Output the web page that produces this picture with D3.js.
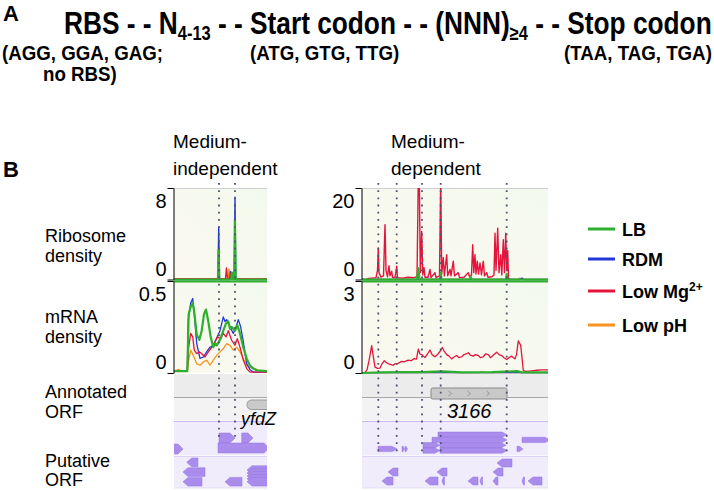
<!DOCTYPE html>
<html><head><meta charset="utf-8">
<script src="https://cdn.jsdelivr.net/npm/d3@7"></script>
<style>
body{margin:0;background:#fff}
svg{display:block}
text{font-family:"Liberation Sans",Arial,sans-serif;white-space:pre}
</style>
</head><body>
<svg id="c" width="714" height="490"></svg>
<script>
// ---------------- DATA ----------------
const titleParts = [["RBS - - N",0],["4-13",1],[" - - Start codon - - (NNN)",0],["≥4",1],[" - - Stop codon",0]];
const subtitles = [["(AGG, GGA, GAG;",2,60],["no RBS)",43,81],["(ATG, GTG, TTG)",250,60],["(TAA, TAG, TGA)",564,60]];
const conditions = ["LB","RDM","Low Mg","Low pH"];
const conditionColors = ["#2eaf2e","#2137d6","#e3153d","#f7931e"];
const rowLabels = [["Ribosome","density"],["mRNA","density"],["Annotated","ORF"],["Putative","ORF"]];
const columnTitles = [["Medium-","independent"],["Medium-","dependent"]];

// Medium-independent (left) : positions 0..93
const leftRiboTicks = [0, 8];
const leftMrnaTicks = [0, 0.5];
const leftRiboLB  = [[0,0],[44,0],[44.6,2.6],[45.3,0],[57,0],[58,0.6],[59,0],[60.2,0],[60.9,5.2],[61.7,0],[93,0]];
const leftRiboRDM = [[0,0],[44,0],[44.7,4.6],[45.5,0],[55.5,0],[56.5,0.7],[57.5,0.2],[59,0.5],[60.3,0],[61,7.2],[61.8,0],[93,0]];
const leftRiboMg  = [[0,0.05],[51.5,0.05],[52.5,1.0],[53.5,0.1],[56.5,0.1],[57.2,0.6],[58,0.05],[93,0.05]];
const leftRiboPH  = [[0,0.05],[43.5,0.05],[44.2,0.6],[45,0.05],[54,0.05],[55,0.9],[56,0.05],[93,0.05]];
const leftMrnaLB  = [[0,0.01],[13.3,0.01],[14.7,0.32],[16.7,0.36],[18.7,0.38],[20.3,0.33],[22.7,0.21],[25.3,0.18],[27.7,0.23],[30,0.32],[32,0.345],[34.3,0.28],[36.7,0.196],[39.3,0.14],[41,0.16],[42.7,0.15],[46,0.18],[49.3,0.23],[52,0.27],[54.3,0.28],[56,0.24],[57.7,0.25],[61,0.23],[63.3,0.26],[66,0.215],[69.3,0.14],[72.7,0.078],[76,0.04],[79.3,0.024],[82.7,0.015],[93,0.01]];
const leftMrnaRDM = [[0,0.01],[13.3,0.01],[14.3,0.29],[16.7,0.38],[18.7,0.405],[20.3,0.32],[22.7,0.16],[26,0.08],[29.3,0.087],[32.7,0.115],[36,0.14],[39.3,0.15],[42.7,0.19],[46,0.23],[49.3,0.305],[51,0.28],[52.7,0.29],[56,0.25],[59.3,0.215],[62,0.25],[64.3,0.29],[66.7,0.25],[69.3,0.17],[72.7,0.05],[76,0.018],[79.3,0.005],[93,0.005]];
const leftMrnaMg  = [[0,0.01],[13.3,0.01],[14.7,0.14],[16.7,0.215],[18.7,0.196],[20.3,0.124],[22.7,0.105],[25.3,0.115],[27.7,0.105],[31,0.087],[34.3,0.115],[37.7,0.14],[41,0.17],[43.7,0.196],[46.7,0.187],[49.3,0.215],[52,0.196],[54.3,0.23],[57.7,0.178],[61,0.15],[63.3,0.187],[66,0.14],[69.3,0.07],[72.7,0.024],[76,0.005],[93,0.005]];
const leftMrnaPH  = [[0,0.01],[5,0.02],[6,0.01],[13.3,0.01],[14.7,0.07],[16.7,0.124],[19.3,0.096],[22.7,0.05],[26,0.042],[29.3,0.06],[32.7,0.07],[36,0.042],[39.3,0.07],[42.7,0.096],[46,0.115],[49.3,0.133],[52.7,0.16],[56,0.15],[59.3,0.124],[62.7,0.14],[66,0.115],[69.3,0.078],[72.7,0.042],[76,0.03],[81,0.024],[86,0.01],[93,0.01]];
const leftMarks = [45, 61];
const leftGenes = [[73, 94, -1, "yfdZ"]];
const leftPutative1 = [[-6,9,1,1.1],[45,61,1,0],[67.7,79,1,0],[44,95,1,1]];
const leftPutative2 = [[12.7,24,-1,0],[9,31,-1,1],[9,28,-1,2],[51,68,-1,2],[73,95,-1,0.8],[73,95,-1,1.1],[73,95,-1,1.4],[73,95,-1,1.7],[73,95,-1,2]];

// Medium-dependent (right) : positions 0..186
const rightRiboTicks = [0, 20];
const rightMrnaTicks = [0, 3];
const rightRiboLB  = [[0,0],[55,0],[56.3,2.5],[57.5,0],[78,0],[78.7,1.5],[79.5,0],[108,0],[108.7,0.6],[109.5,0],[144,0],[144.7,1.2],[145.5,0],[186,0]];
const rightRiboRDM = [[0,0],[158,0],[160,0.3],[162,0],[186,0]];
const rightRiboMg  = [[5,0.2],[14,0.4],[15.5,2],[16.3,6.9],[17,1.5],[19,0.5],[21.5,0.8],[23,12],[24,2],[25.5,0.6],[27,3.0],[28,0.8],[29.7,1.8],[30.5,0.5],[33,0.4],[34.7,2.9],[35.5,0.4],[40,0.3],[46,0.5],[52,0.4],[55,0.6],[56.3,22],[57.3,22],[58.3,1.5],[59.7,10.5],[60.8,1],[62,2.6],[63,0.5],[66,0.5],[68,2.2],[69,0.4],[73,1.5],[74,0.4],[77.5,0.8],[78.7,22],[79.7,1.2],[81.3,4.8],[82.3,0.8],[84.7,5.4],[85.7,0.8],[88,2.2],[89,0.8],[91.3,4.0],[92.5,0.8],[96.3,1.5],[97.5,0.4],[102,0.5],[106.3,1.5],[107.5,0.6],[109.5,1],[110.7,7.6],[111.8,1.5],[113,5.4],[114,1.2],[115.3,4.0],[116.5,1.2],[118,3.6],[119.5,1.0],[121.3,4.0],[122.5,0.8],[124.7,1.5],[126,0.5],[130,0.6],[132,1],[133,10.1],[134,2],[135.7,11.2],[137,1.5],[138.7,5.4],[139.8,1],[141.3,8.7],[142.5,1.5],[143.7,10.1],[144.8,2],[145.7,6.3],[146.5,0.3],[148,0.1]];
const rightRiboPH  = [[0,0],[156,0],[158,0.3],[159,0],[186,0]];
const rightMrnaLB  = [[0,0],[20,0.02],[40,0.03],[60,0.03],[80,0.05],[100,0.02],[130,0.03],[155,0.06],[160,0.02],[186,0.02]];
const rightMrnaRDM = [[0,0.01],[186,0.01]];
const rightMrnaMg  = [[3,0.02],[5,0.1],[7,0.4],[9.7,0.89],[11,0.6],[13,0.19],[15.5,0.15],[18,0.16],[20,0.3],[22.3,0.4],[24,0.35],[26.3,0.3],[28.5,0.28],[31.3,0.25],[33,0.3],[34.7,0.3],[37,0.33],[39.7,0.38],[42,0.36],[46.3,0.42],[49,0.4],[52.3,0.47],[54.5,0.45],[56.3,0.78],[58,0.62],[59.7,0.6],[61.5,0.55],[63,0.5],[65.5,0.62],[68,0.75],[70,0.6],[73,0.53],[75.5,0.6],[78,0.7],[80.3,0.83],[82,0.72],[84.7,0.6],[87,0.55],[89.7,0.46],[92,0.52],[94.7,0.57],[97,0.5],[99.7,0.53],[102,0.6],[104,0.62],[106.3,0.66],[108.5,0.58],[111.3,0.55],[113.5,0.6],[116.3,0.57],[118.5,0.5],[121.3,0.53],[123.5,0.62],[126.3,0.6],[128.5,0.5],[129.7,0.53],[132,0.6],[134.7,0.68],[137,0.6],[139.7,0.57],[142,0.5],[144.7,0.44],[147,0.5],[149.7,0.55],[151.5,0.5],[153,0.46],[154.5,0.6],[156.3,1.05],[158.7,0.9],[160,0.5],[161.3,0.08],[164,0.05],[170,0.07],[175,0.09],[179.7,0.1],[186,0.1]];
const rightMrnaPH  = [[0,0.01],[58,0.01],[60,0.05],[62,0.01],[118,0.01],[120,0.04],[122,0.01],[186,0.01]];
const rightMarks = [16.3, 34.7, 60, 78.7, 144.7];
const rightGenes = [[69, 145, 1, "3166"]];
const rightPutative1 = [[76,145,1,0],[70,145,1,1],[61,78,1,2],[78,144,1,2],[61,78,1,3],[78,145,1,3],[16,35,1,2.7],[40,42.5,1,2.7],[43,45.5,1,2.7],[155,161,1,2.7],[160,188,1,1]];
const rightPutative2 = [[135,150,-1,0],[131,141,-1,1],[26,36,-1,1],[20,31,-1,2],[75,85,-1,1],[63,76,-1,2],[80,82.5,-1,2],[106,116,-1,2],[118,120.5,-1,2],[131,136,-1,2],[160,162.5,-1,2],[166,180,-1,2]];

// ---------------- DRAW ----------------
const svg = d3.select("#c");

// Panel A
svg.append("text").attr("x",3).attr("y",21).attr("font-size",22).attr("font-weight","bold").text("A");
const tg = svg.append("g");
const tt = tg.append("text").attr("font-size",32).attr("font-weight","bold");
titleParts.forEach((p,i)=>{
  const prevSub = i>0 && titleParts[i-1][1];
  tt.append("tspan").attr("font-size",p[1]?20:32)
    .attr("dy", p[1]?6:(prevSub?-6:0)).text(p[0]);
});
const tw = tt.node().getComputedTextLength();
tg.attr("transform",`translate(64,34) scale(${648/tw},1)`);

const subScaleProbe = svg.append("text").attr("font-size",21).attr("font-weight","bold").text(subtitles[3][0]);
const subScale = 148/subScaleProbe.node().getComputedTextLength();
subScaleProbe.remove();
subtitles.forEach(s=>{
  svg.append("g").attr("transform",`translate(${s[1]},${s[2]}) scale(${subScale},1)`)
    .append("text").attr("font-size",21).attr("font-weight","bold").text(s[0]);
});

// Panel B
svg.append("text").attr("x",3).attr("y",177).attr("font-size",22).attr("font-weight","bold").text("B");

const rowY = [[242,262],[323,343],[398,418],[467,486]];
rowLabels.forEach((r,i)=>{
  r.forEach((t,j)=>svg.append("text").attr("x",45).attr("y",rowY[i][j]).attr("font-size",18).text(t));
});

const defs = svg.append("defs");
const grad = defs.append("linearGradient").attr("id","bg").attr("x1",0).attr("x2",1).attr("y1",1).attr("y2",0);
grad.append("stop").attr("offset","0%").attr("stop-color","#fcf9ef");
grad.append("stop").attr("offset","100%").attr("stop-color","#f3f9ee");

const Y = {riboTop:188, riboBot:279.5, mrnaTop:281, mrnaBot:373, annTop:374, annMid:397.5, annBot:420.5,
           p1Top:421, p1Bot:455.5, p2Top:457, p2Bot:488};

function arrowPath(xs, xe, y, h, strand){
  const tip = Math.min(5, (xe-xs)*0.6);
  if (strand>0) return `M${xs},${y}H${xe-tip}L${xe},${y+h/2}L${xe-tip},${y+h}H${xs}Z`;
  return `M${xe},${y}H${xs+tip}L${xs},${y+h/2}L${xs+tip},${y+h}H${xe}Z`;
}

function drawPanel(cfg, idx){
  const x = d3.scaleLinear().domain([0,cfg.dmax]).range([cfg.x0,cfg.x1]);
  const yR = d3.scaleLinear().domain(cfg.riboTicks).range([Y.riboBot,Y.riboTop]);
  const yM = d3.scaleLinear().domain(cfg.mrnaTicks).range([Y.mrnaBot,Y.mrnaTop]);
  const g = svg.append("g");
  const w = cfg.x1-cfg.x0;

  columnTitles[idx].forEach((t,j)=>g.append("text").attr("x",cfg.titleX).attr("y",148+27*j).attr("font-size",19).text(t));

  g.append("rect").attr("x",cfg.x0).attr("y",Y.riboTop).attr("width",w).attr("height",Y.riboBot-Y.riboTop).attr("fill","url(#bg)");
  g.append("rect").attr("x",cfg.x0).attr("y",Y.mrnaTop).attr("width",w).attr("height",Y.mrnaBot-Y.mrnaTop).attr("fill","url(#bg)");
  g.append("line").attr("x1",cfg.x0).attr("x2",cfg.x1).attr("y1",Y.riboTop+0.5).attr("y2",Y.riboTop+0.5).attr("stroke","#cfcfcf");

  g.append("rect").attr("x",cfg.x0).attr("y",Y.annTop).attr("width",w).attr("height",Y.annMid-Y.annTop).attr("fill","#ececec");
  g.append("rect").attr("x",cfg.x0).attr("y",Y.annMid).attr("width",w).attr("height",Y.annBot-Y.annMid).attr("fill","#f3f3f3");
  g.append("line").attr("x1",cfg.x0).attr("x2",cfg.x1).attr("y1",Y.annMid).attr("y2",Y.annMid).attr("stroke","#a8a8a8");

  g.append("rect").attr("x",cfg.x0).attr("y",Y.p1Top).attr("width",w).attr("height",Y.p1Bot-Y.p1Top).attr("fill","#f1ecfb");
  g.append("rect").attr("x",cfg.x0).attr("y",Y.p2Top).attr("width",w).attr("height",Y.p2Bot-Y.p2Top).attr("fill","#f1ecfb");
  g.append("line").attr("x1",cfg.x0).attr("x2",cfg.x1).attr("y1",Y.p1Top+0.5).attr("y2",Y.p1Top+0.5).attr("stroke","#c9b9ee");
  g.append("line").attr("x1",cfg.x0).attr("x2",cfg.x1).attr("y1",Y.p2Top-0.5).attr("y2",Y.p2Top-0.5).attr("stroke","#ddd2f5");
  g.append("line").attr("x1",cfg.x0).attr("x2",cfg.x1).attr("y1",Y.p2Bot).attr("y2",Y.p2Bot).attr("stroke","#e3daf6");

  const cid = "clip"+idx;
  defs.append("clipPath").attr("id",cid+"r").append("rect").attr("x",cfg.x0).attr("y",Y.riboTop).attr("width",w).attr("height",Y.riboBot-Y.riboTop+1.5);
  defs.append("clipPath").attr("id",cid+"m").append("rect").attr("x",cfg.x0).attr("y",Y.mrnaTop).attr("width",w).attr("height",Y.mrnaBot-Y.mrnaTop+1.5);
  defs.append("clipPath").attr("id",cid+"t").append("rect").attr("x",cfg.x0).attr("y",Y.annTop).attr("width",w).attr("height",Y.p2Bot-Y.annTop);

  const order = [3,1,2,0];
  const lr = d3.line().x(d=>x(d[0])).y(d=>yR(d[1]));
  const lm = d3.line().x(d=>x(d[0])).y(d=>yM(d[1]));
  const gr = g.append("g").attr("clip-path",`url(#${cid}r)`);
  const gm = g.append("g").attr("clip-path",`url(#${cid}m)`);
  order.forEach(k=>{
    gr.append("path").attr("d",lr(cfg.ribo[k])).attr("fill","none").attr("stroke",conditionColors[k])
      .attr("stroke-width",k===0?2.2:1.4).attr("stroke-linejoin","round");
    gm.append("path").attr("d",lm(cfg.mrna[k])).attr("fill","none").attr("stroke",conditionColors[k])
      .attr("stroke-width",k===0?2.2:1.3).attr("stroke-linejoin","round");
  });
  g.append("line").attr("x1",cfg.x0).attr("x2",cfg.x1).attr("y1",Y.mrnaTop+0.5).attr("y2",Y.mrnaTop+0.5).attr("stroke",conditionColors[0]).attr("stroke-width",2);

  const axR = d3.axisLeft(yR).tickValues(cfg.riboTicks).tickSize(6).tickFormat(d3.format("~g"));
  const axM = d3.axisLeft(yM).tickValues(cfg.mrnaTicks).tickSize(6).tickFormat(d3.format("~g"));
  [axR,axM].forEach(ax=>{
    const a = g.append("g").attr("transform",`translate(${cfg.x0-0.5},0)`).call(ax);
    a.select(".domain").attr("stroke","#000").attr("d", function(){return d3.select(this).attr("d").replace(/^M-6/,"M0").replace(/H-6$/,"H0");});
    a.selectAll(".tick line").attr("stroke","#000");
    a.selectAll(".tick text").attr("font-size",20).attr("font-family","Liberation Sans, Arial, sans-serif")
      .attr("fill","#000").attr("x",-7).attr("dy",(d,i)=>i===0?"-0.22em":"0.95em");
  });

  const gt = g.append("g").attr("clip-path",`url(#${cid}t)`);
  cfg.genes.forEach(ge=>{
    const xs=x(ge[0]), xe=x(ge[1]);
    if (ge[2]>0){
      gt.append("rect").attr("x",xs).attr("y",388).attr("width",xe-xs).attr("height",11).attr("rx",1.5)
        .attr("fill","#c9c9c9").attr("stroke","#8a8a8a");
      [0.25,0.5,0.75].forEach(f=>{
        const cx = xs+(xe-xs)*f;
        gt.append("path").attr("d",`M${cx-1.5},${391}L${cx+1.5},${393.5}L${cx-1.5},${396}`).attr("fill","none").attr("stroke","#8a8a8a").attr("stroke-width",0.8);
      });
    } else {
      gt.append("rect").attr("x",xs).attr("y",400).attr("width",xe-xs+6).attr("height",9.5).attr("rx",4.5)
        .attr("fill","#cacaca").attr("stroke","#9a9a9a");
    }
  });
  cfg.genes.forEach(ge=>{
    g.append("text").attr("x",cfg.geneLabelX).attr("y",cfg.geneLabelY).attr("font-size",cfg.geneLabelSize)
      .attr("font-style","italic").text(ge[3]);
  });

  const purple = "#a98cec";
  cfg.put1.forEach(f=>{
    gt.append("path").attr("d",arrowPath(x(f[0]),x(f[1]),cfg.p1y0+f[3]*cfg.p1h,cfg.p1h,f[2]))
      .attr("fill",purple).attr("stroke","#9274e0").attr("stroke-width",0.5);
  });
  cfg.put2.forEach(f=>{
    gt.append("path").attr("d",arrowPath(x(f[0]),x(f[1]),cfg.p2y0+f[3]*cfg.p2h,cfg.p2h-1,f[2]))
      .attr("fill",purple).attr("stroke","#9274e0").attr("stroke-width",0.5);
  });

  cfg.marks.forEach(m=>{
    g.append("line").attr("x1",x(m)).attr("x2",x(m)).attr("y1",183).attr("y2",cfg.markEnd)
      .attr("stroke","#4b5370").attr("stroke-width",1.8).attr("stroke-dasharray","1.8,5.4");
  });
}

drawPanel({x0:174,x1:267,dmax:93,riboTicks:leftRiboTicks,mrnaTicks:leftMrnaTicks,
  ribo:[leftRiboLB,leftRiboRDM,leftRiboMg,leftRiboPH], mrna:[leftMrnaLB,leftMrnaRDM,leftMrnaMg,leftMrnaPH],
  marks:leftMarks, markEnd:437, genes:leftGenes, geneLabelX:241, geneLabelY:425, geneLabelSize:18,
  put1:leftPutative1, p1y0:433, p1h:10, put2:leftPutative2, p2y0:458, p2h:9.7, titleX:173},0);

drawPanel({x0:362,x1:548,dmax:186,riboTicks:rightRiboTicks,mrnaTicks:rightMrnaTicks,
  ribo:[rightRiboLB,rightRiboRDM,rightRiboMg,rightRiboPH], mrna:[rightMrnaLB,rightMrnaRDM,rightMrnaMg,rightMrnaPH],
  marks:rightMarks, markEnd:453, genes:rightGenes, geneLabelX:447, geneLabelY:418, geneLabelSize:20,
  put1:rightPutative1, p1y0:432, p1h:5.3, put2:rightPutative2, p2y0:459, p2h:9, titleX:391},1);

// Legend
const legendY = [229, 259, 291, 325];
const lg = svg.append("g");
conditions.forEach((c,i)=>{
  const yy = legendY[i];
  lg.append("line").attr("x1",588).attr("x2",615).attr("y1",yy).attr("y2",yy).attr("stroke",conditionColors[i]).attr("stroke-width",3);
  const t = lg.append("text").attr("x",622).attr("y",yy+6.5).attr("font-size",18).attr("font-weight","bold").text(c);
  if (c==="Low Mg") t.append("tspan").attr("font-size",12).attr("dy",-7).text("2+");
});
</script>
</body></html>
